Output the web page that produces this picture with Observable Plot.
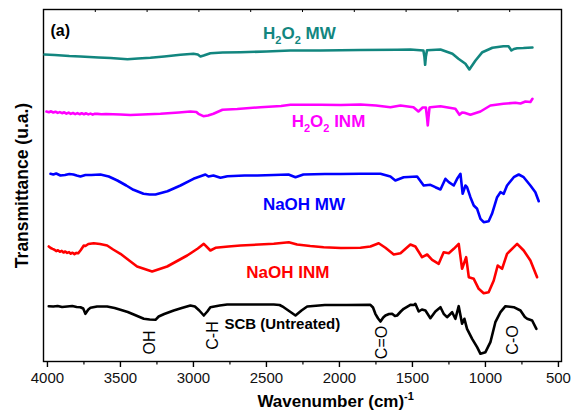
<!DOCTYPE html>
<html><head><meta charset="utf-8">
<script src="https://cdn.jsdelivr.net/npm/d3@7"></script>
<script src="https://cdn.jsdelivr.net/npm/@observablehq/plot@0.6"></script>
<style>body{margin:0;background:#fff;} svg{display:block}</style>
</head><body><div id="chart"></div>
<script>
// ---- data (arbitrary transmittance units, offset per spectrum) ----
const tealWn = [4020,3950,3850,3774,3650,3568,3452,3380,3295,3200,3089,3000,2970,2952,2930,2884,2800,2678,2500,2336,2130,1856,1603,1514,1425,1418,1413,1408,1400,1308,1226,1185,1137,1110,1068,1021,952,877,842,822,805,783,740,678];
const tealT  = [307,306.5,305.5,305,304,303.5,302.3,303,303.7,305,306.7,307.7,307,305,306,308.3,309,309.3,310,311,311,311.5,311.7,312,311,305,296.7,305,311.3,312,307.7,302.7,297.7,292,301,309.3,313.7,315.3,315.3,311,312.5,313.3,313.5,314];

const magWn = [4007,3990,3975,3960,3945,3930,3915,3900,3885,3870,3855,3840,3825,3810,3795,3780,3765,3750,3735,3720,3705,3690,3675,3658,3630,3600,3500,3432,3350,3226,3100,3021,2980,2966,2932,2900,2863,2801,2700,2541,2400,2336,2130,1990,1856,1750,1651,1582,1493,1459,1430,1408,1400,1395,1390,1383,1377,1308,1206,1178,1160,1144,1103,1034,966,877,795,760,726,692,678];
const magT  = [250,249.3,250.2,249,249.8,248.6,249.4,248.3,249.2,247.8,248.9,247.6,248.5,247.4,248.4,247.3,248.3,247.2,248.2,247.1,247.9,246.9,247.8,247.6,247.2,247.5,247,246.5,247,247.7,249,250,249.5,247.7,245.3,246,247.7,251.7,252.5,254.3,255.5,256.7,256.7,256.5,257,256,254.3,256,254.3,250,254,254,244,236,244,254,254.3,255.3,252.7,246.7,249,248.7,246.7,250,256,257.7,258.7,258,260,259.5,262.7];

const blueWn = [3979,3960,3940,3911,3880,3850,3822,3800,3774,3740,3700,3637,3580,3521,3460,3411,3342,3300,3260,3178,3089,3000,2918,2897,2863,2815,2767,2650,2562,2450,2349,2301,2247,2100,1993,1856,1719,1651,1617,1560,1468,1423,1377,1343,1308,1274,1251,1217,1194,1171,1156,1137,1126,1103,1080,1057,1034,1012,978,955,920,897,875,852,806,772,738,692,658,635];
const blueT  = [187.7,187,188,186,186.5,187.5,187,186,185,186.5,186.5,187,185,181,176,171.7,167.7,167,167,170.3,176,182.7,187,185,186,183.7,185.3,186,186,186.5,187,184.3,187,187.5,187.5,187.7,187.7,185,181,184.3,185,176,176.7,174.3,172,182.7,179.3,176,182.7,187.7,167.7,176,174.3,164.3,156,152.7,142.7,139.3,140.3,147.7,164.3,169.3,167.7,176,184.3,187,184.3,176,169.3,160.3];

const redWn = [3991,3978,3965,3952,3940,3928,3915,3902,3890,3878,3865,3852,3840,3828,3815,3802,3790,3774,3760,3751,3740,3720,3683,3640,3591,3550,3500,3440,3386,3283,3180,3043,2970,2929,2884,2849,2760,2678,2450,2347,2290,2200,2108,1990,1856,1788,1731,1685,1628,1582,1514,1480,1434,1399,1365,1320,1286,1251,1217,1183,1160,1132,1114,1080,1046,1012,978,943,916,886,852,783,738,692,646];
const redT  = [115,113.5,112.6,111.8,110.4,111.2,109.8,110.6,109,110,108.6,109.4,107.8,108.8,107.4,108.6,108.2,111,114,116,115.5,117.5,118.3,117.5,116,112,107.7,101,95,90,95,106,113,117.7,111,113.7,115,116,117.7,119.3,117,115.5,114.3,113.5,113.7,115,118.3,113.7,107,108.3,117,115,104.3,107,101.7,97.7,109.3,108.3,112.7,117.7,92.7,104.3,84.3,82.7,72.7,68.3,69.3,81,96,92.7,107.7,117.7,111,101,84.3];

const blackWn = [3991,3960,3930,3900,3865,3830,3800,3774,3755,3740,3720,3705,3660,3591,3540,3500,3450,3409,3340,3300,3260,3238,3200,3135,3080,3021,2990,2960,2929,2905,2884,2820,2769,2600,2450,2410,2382,2340,2301,2260,2221,2100,1950,1788,1770,1754,1735,1719,1700,1685,1660,1639,1620,1605,1580,1560,1514,1490,1480,1457,1435,1411,1377,1343,1308,1286,1263,1228,1206,1183,1160,1144,1126,1091,1057,1034,1000,966,932,897,863,806,760,730,714,680,651];
const blackT  = [55.3,55,55.5,54.5,55,55.5,54.5,54.3,53,47.7,52,53.7,55,55,53.5,51.7,49.5,47,42.7,42,41.7,45,47.5,51,53.5,56,55,51,46,50,54.3,56,57,57,57,56.5,54.3,50,46,51,55,56.5,56.5,56.7,54,47.7,43,40,44,46,47.5,47.7,45.5,46,50,52.7,56.7,56.5,57.7,50,52,51,43.3,50,54.3,47.7,44.3,49.3,42.7,55.3,37.7,42.7,32.7,22.7,14.3,7.7,9.3,19.3,39.3,49.3,55.3,54.3,51,44.5,42.7,41,32.7];

const seriesNames  = ["H2O2 MW", "H2O2 INM", "NaOH MW", "NaOH INM", "SCB (Untreated)"];
const seriesColors = ["#12867f", "#ff00ff", "#0000ff", "#ff0000", "#000000"];
const labelWn = [2274, 2075, 2243, 2353, 2788];
const labelT  = [328, 240, 157, 89, 37];
const labelAnchor = ["middle", "middle", "middle", "middle", "start"];

const bandText = ["OH", "C-H", "C=O", "C-O"];
const bandWn   = [3295, 2870, 1712, 815];
const bandT    = [19, 26, 19, 21.5];

const majorTicks = [4000, 3500, 3000, 2500, 2000, 1500, 1000, 500];
const minorTicks = [3750, 3250, 2750, 2250, 1750, 1250, 750];
const xDomain = [4027, 479];
const yDomain = [0, 352];
const xTitle = "Wavenumber (cm)";
const xTitleWn = 2562;
const yTitle = "Transmittance (u.a.)";
const panelTag = "(a)";

// ---- build ----
const spectra = [
  {wn: tealWn, t: tealT}, {wn: magWn, t: magT}, {wn: blueWn, t: blueT},
  {wn: redWn, t: redT}, {wn: blackWn, t: blackT}
].map((s, k) => ({name: seriesNames[k], color: seriesColors[k], rows: s.wn.map((w, i) => ({wn: w, t: s.t[i]}))}));

const topTicks = d3.range(1, 10).map(k => xDomain[0] + k * (xDomain[1] - xDomain[0]) / 10);
const font = "'Liberation Sans', Arial, Helvetica, sans-serif";

const marks = [
  Plot.frame({stroke: "#000", strokeWidth: 1.4}),
  Plot.axisX({ticks: majorTicks, tickSize: 6, tickPadding: 5, fontSize: 15, label: null, tickFormat: d => String(d), stroke: "#000", strokeWidth: 1.4, fill: "#111"}),
  Plot.axisX({ticks: minorTicks, tickSize: 3.5, tickFormat: () => "", label: null, stroke: "#000", strokeWidth: 1.2}),
  Plot.ruleX(topTicks, {x: d => d, y1: yDomain[1], y2: yDomain[1] - 3, stroke: "#000", strokeWidth: 1})
];
for (const s of spectra) {
  marks.push(Plot.line(s.rows, {x: "wn", y: "t", stroke: s.color, strokeWidth: 2.6, strokeLinejoin: "round"}));
}
spectra.forEach((s, k) => {
  marks.push(Plot.text([{wn: labelWn[k], t: labelT[k], text: s.name}], {
    x: "wn", y: "t", text: "text", fill: s.color, fontWeight: "bold",
    fontSize: k === 4 ? 15 : 17, textAnchor: labelAnchor[k]
  }));
});
marks.push(Plot.text(bandText.map((b, i) => ({text: b, wn: bandWn[i], t: bandT[i]})), {
  x: "wn", y: "t", text: "text", rotate: -90, fontSize: 16, fill: "#000"
}));
marks.push(Plot.text([{text: panelTag, wn: 3979, t: 331}], {x: "wn", y: "t", text: "text", fontWeight: "bold", fontSize: 16, textAnchor: "start", fill: "#000"}));
marks.push(Plot.text([yTitle], {frameAnchor: "left", dx: -21, rotate: -90, textAnchor: "middle", lineAnchor: "middle", fontWeight: "bold", fontSize: 17.5, fill: "#000"}));
marks.push(Plot.text([{text: xTitle, wn: xTitleWn}], {x: "wn", text: "text", frameAnchor: "bottom", dy: 40, textAnchor: "start", lineAnchor: "middle", fontWeight: "bold", fontSize: 17, fill: "#000"}));

const chart = Plot.plot({
  width: 577, height: 412,
  marginLeft: 43, marginRight: 16, marginTop: 9, marginBottom: 51,
  style: {fontFamily: font, fontSize: "15px", background: "#fff", color: "#000"},
  x: {domain: xDomain},
  y: {domain: yDomain, axis: null},
  marks
});
document.getElementById("chart").appendChild(chart);

// subscripts / superscripts as real text
const svg = d3.select(chart.tagName.toLowerCase() === "svg" ? chart : chart.querySelector("svg"));
svg.selectAll("text").each(function () {
  const t = this.textContent;
  const el = d3.select(this);
  if (t.startsWith("H2O2")) {
    el.text(null);
    el.append("tspan").text("H");
    el.append("tspan").attr("dy", 5).attr("font-size", 11).text("2");
    el.append("tspan").attr("dy", -5).text("O");
    el.append("tspan").attr("dy", 5).attr("font-size", 11).text("2");
    el.append("tspan").attr("dy", -5).text(t.slice(4));
  } else if (t === xTitle) {
    el.append("tspan").attr("dy", -7).attr("font-size", 11).text("-1");
  }
});
</script>
</body></html>
